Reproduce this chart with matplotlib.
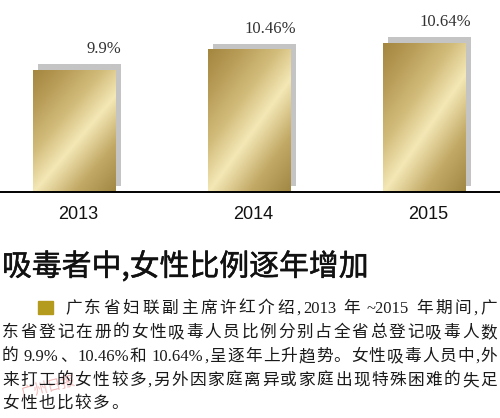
import re
import numpy as np
import matplotlib
matplotlib.use("Agg")
import matplotlib.pyplot as plt
import matplotlib.patheffects as pe
from matplotlib.colors import LinearSegmentedColormap
from matplotlib.patches import Rectangle
from matplotlib.transforms import ScaledTranslation

# ---- data ----
years = ["2013", "2014", "2015"]
values = [9.9, 10.46, 10.64]
value_labels = [f"{v:g}%" for v in values]

title = "吸毒者中,女性比例逐年增加"
body_lines = [
    "广东省妇联副主席许红介绍,2013 年 ~2015 年期间,广",
    "东省登记在册的女性吸毒人员比例分别占全省总登记吸毒人数",
    f"的 {value_labels[0]}、{value_labels[1]}和 {value_labels[2]},呈逐年上升趋势。女性吸毒人员中,外",
    "来打工的女性较多,另外因家庭离异或家庭出现特殊困难的失足",
    "女性也比较多。",
]
watermark = "广州日报"

W, H = 500, 418
fig = plt.figure(figsize=(W / 100, H / 100), dpi=100)
fig.patch.set_facecolor("white")


def fx(px):
    return px / W


def fy(py):
    return 1 - py / H


CJK = ["Noto Sans CJK SC", "DejaVu Sans"]
SERIF = ["Liberation Serif", "Noto Sans CJK SC"]

# ---- bar chart ----
base_px = 192
ax = fig.add_axes([0, fy(base_px), 1, base_px / H])
ax.axis("off")
y0, y1 = 6.56, 11.82
ax.set_xlim(-0.4257, 2.431)
ax.set_ylim(y0, y1)
x = np.arange(len(values))
width = 0.474

# grey drop shadow, shifted right and up
shadow = ax.bar(x, np.array(values) - y0, width, bottom=y0,
                color="#c4c4c4", zorder=1)
shift = ScaledTranslation(5 / 100, 6 / 100, fig.dpi_scale_trans)
for p in shadow:
    p.set_transform(ax.transData + shift)

# metallic gold gradient for the front bars
gold = LinearSegmentedColormap.from_list(
    "gold",
    [(0.0, "#a08844"), (0.22, "#c2a966"), (0.44, "#f4e8b6"),
     (0.62, "#d3bd7c"), (0.82, "#b89d58"), (1.0, "#a4863f")],
)
nu, nv = 120, 200
u = np.linspace(0, 1, nu)[None, :]
v = np.linspace(0, 1, nv)[:, None]
d = v - 0.8 * u
grad = (d + 0.8) / 1.8
for xi, val in zip(x, values):
    ax.imshow(grad, cmap=gold, vmin=0, vmax=1, origin="lower",
              extent=(xi - width / 2, xi + width / 2, y0, val),
              aspect="auto", interpolation="bilinear", zorder=2)

ax.axhline(y0, color="black", lw=1.4, clip_on=False, zorder=3)

for xi, val, lbl in zip(x, values, value_labels):
    ax.annotate(lbl, xy=(xi + width / 2, val), xytext=(5, 21),
                textcoords="offset pixels", ha="right", va="center",
                fontsize=12, family=SERIF, color="#333333")

for xi, yr in zip(x, years):
    ax.annotate(yr, xy=(xi, 0), xycoords=("data", "axes fraction"),
                xytext=(4, -23), textcoords="offset pixels",
                ha="center", va="center", fontsize=13,
                family=["Liberation Sans"], color="#111111")

# ---- headline ----
fig.text(fx(2), fy(267), title, fontsize=21.5, family=CJK, va="center",
         color="#111111",
         path_effects=[pe.withStroke(linewidth=0.35, foreground="#111111")])

# ---- body paragraph ----
fig.add_artist(Rectangle((fx(38), fy(314)), 15 / W, 13 / H,
                         transform=fig.transFigure, color="#b59b1d"))

renderer = fig.canvas.get_renderer()
body_fs = 12
fs_px = body_fs * 100 / 72


def props_for(tok):
    if tok.isascii():
        return dict(fontsize=body_fs, family=SERIF, color="#1a1a1a")
    return dict(fontsize=body_fs, family=CJK, color="#1a1a1a")


def token_width(tok):
    if tok == " ":
        return 0.25 * fs_px
    t = fig.text(0, 0, tok, **props_for(tok))
    w = t.get_window_extent(renderer).width
    t.remove()
    return w


def draw_line(text, x_left, x_right, baseline, justify, track=1.5):
    toks = re.findall(r"[0-9.%~]+|\s|.", text)
    widths = [token_width(t) for t in toks]
    # spaces take a fixed width and get no extra tracking
    n_gaps = sum(1 for t in toks[:-1] if t != " ")
    if justify and n_gaps > 0:
        gap = (x_right - x_left - sum(widths)) / n_gaps
    else:
        gap = track
    xp = x_left
    for tok, w in zip(toks, widths):
        if tok == " ":
            xp += w
            continue
        fig.text(fx(xp), fy(baseline), tok, va="baseline", ha="left",
                 **props_for(tok))
        xp += w + gap


starts = [65, 2, 2, 2, 2]
baselines = [313, 337, 361, 385, 408]
for i, (line, xs, bl) in enumerate(zip(body_lines, starts, baselines)):
    draw_line(line, xs, 497, bl, justify=(i < len(body_lines) - 1))

fig.text(fx(20), fy(398), watermark, rotation=14, fontsize=10,
         family=CJK, color="#e06666", alpha=0.45, zorder=0)

fig.savefig("out.png", dpi=100, facecolor="white")
